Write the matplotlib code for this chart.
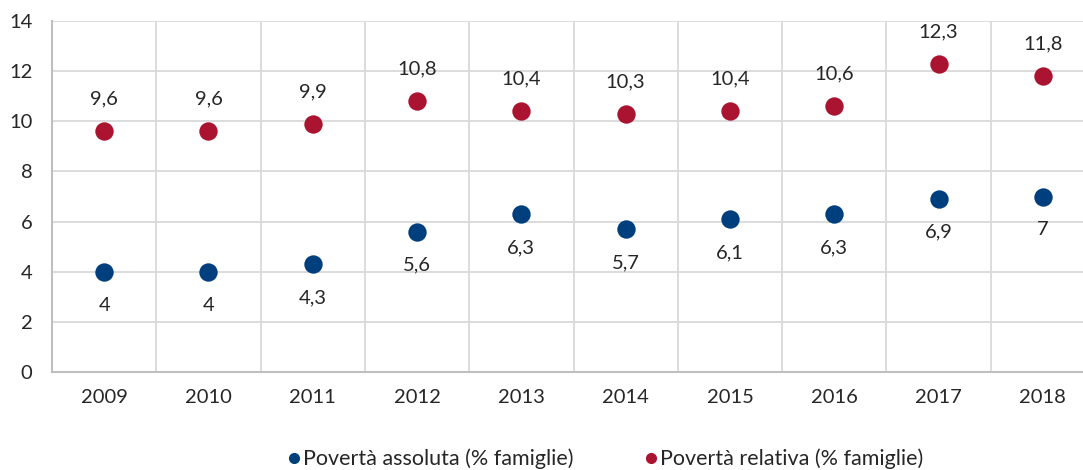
import matplotlib.pyplot as plt
from matplotlib.lines import Line2D

plt.rcParams['font.family'] = ['Lato', 'DejaVu Sans']

anni = ['2009', '2010', '2011', '2012', '2013', '2014', '2015', '2016', '2017', '2018']
assoluta = [4.0, 4.0, 4.3, 5.6, 6.3, 5.7, 6.1, 6.3, 6.9, 7.0]
relativa = [9.6, 9.6, 9.9, 10.8, 10.4, 10.3, 10.4, 10.6, 12.3, 11.8]

BLU = '#003f7d'
ROSSO = '#ab1431'
GRIGIO = '#d9d9d9'


def fmt(v):
    s = f'{v:.1f}'.replace('.', ',')
    return s[:-2] if s.endswith(',0') else s


fig = plt.figure(figsize=(10.83, 4.70), dpi=100)
# area del grafico: x 52..1095 px, y 21..372 px
ax = fig.add_axes([52 / 1083, 1 - 372 / 470, 1043 / 1083, 351 / 470])

x = list(range(len(anni)))
ax.scatter(x, assoluta, s=175, color=BLU, zorder=3, linewidths=0)
ax.scatter(x, relativa, s=175, color=ROSSO, zorder=3, linewidths=0)

for xi, v in zip(x, assoluta):
    ax.annotate(fmt(v), (xi, v), xytext=(0, -24), textcoords='offset points',
                ha='center', va='center', fontsize=14.5, color='#262626')
for xi, v in zip(x, relativa):
    ax.annotate(fmt(v), (xi, v), xytext=(0, 23), textcoords='offset points',
                ha='center', va='center', fontsize=14.5, color='#262626')

ax.set_xlim(-0.5, len(anni) - 0.5)
ax.set_ylim(0, 14)
ax.set_yticks(range(0, 15, 2))
ax.set_xticks(x)
ax.set_xticklabels(anni)
ax.set_xticks([i + 0.5 for i in range(len(anni) - 1)], minor=True)

ax.grid(axis='y', color=GRIGIO, linewidth=1.3, zorder=0)
ax.grid(axis='x', which='minor', color=GRIGIO, linewidth=1.3, zorder=0)
ax.tick_params(axis='both', which='both', length=0, labelsize=14.5, colors='#262626')
ax.tick_params(axis='x', pad=12)
ax.tick_params(axis='y', pad=14)

for side in ['top', 'right']:
    ax.spines[side].set_visible(False)
for side in ['left', 'bottom']:
    ax.spines[side].set_color('#bfbfbf')
    ax.spines[side].set_linewidth(1.5)

handles = [
    Line2D([], [], marker='o', linestyle='', color=BLU, markersize=7,
           label='Povertà assoluta (% famiglie)'),
    Line2D([], [], marker='o', linestyle='', color=ROSSO, markersize=7,
           label='Povertà relativa (% famiglie)'),
]
fig.legend(handles=handles, loc='center', bbox_to_anchor=(0.557, 1 - 459 / 470),
           ncol=2, frameon=False, fontsize=15.5, handletextpad=-0.1,
           columnspacing=3.1, handlelength=1.0, labelcolor='#262626')

fig.savefig('out.png', dpi=100)
